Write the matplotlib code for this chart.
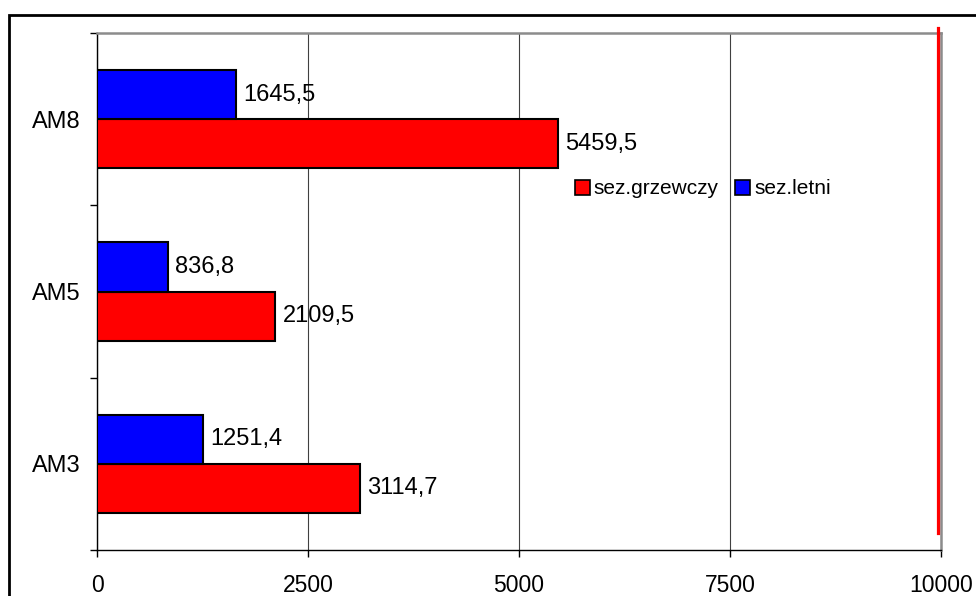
import numpy as np
import matplotlib
matplotlib.use("Agg")
import matplotlib.pyplot as plt
from matplotlib.patches import Rectangle

# stations, bottom to top as drawn
stations = ["AM3", "AM5", "AM8"]
heating = [3114.7, 2109.5, 5459.5]   # sez.grzewczy
summer = [1251.4, 836.8, 1645.5]     # sez.letni
limit_value = 9960
x_ticks = [0, 2500, 5000, 7500, 10000]

plt.rcParams["font.family"] = ["Liberation Sans", "DejaVu Sans"]

fig = plt.figure(figsize=(9.76, 5.96), dpi=100)
ax = fig.add_axes([97 / 976, 1 - 550 / 596, 844 / 976, 517 / 596])

y = np.arange(len(stations))
h = 0.285
red_bars = ax.barh(y - h / 2, heating, height=h, color="#ff0000",
                   edgecolor="black", linewidth=1.5, zorder=3)
blue_bars = ax.barh(y + h / 2, summer, height=h, color="#0000ff",
                    edgecolor="black", linewidth=1.5, zorder=3)

for bars, vals in ((red_bars, heating), (blue_bars, summer)):
    for b, v in zip(bars, vals):
        ax.annotate(f"{v:.1f}".replace(".", ","),
                    (v, b.get_y() + b.get_height() / 2),
                    xytext=(5.5, 0), textcoords="offset points",
                    ha="left", va="center", fontsize=17, zorder=4)

# limit line
ax.plot([limit_value, limit_value], [2.53, -0.4], color="#ff0000",
        lw=2.3, zorder=5, clip_on=False)

ax.set_xlim(0, 10000)
ax.set_ylim(-0.5, 2.5)
ax.set_xticks(x_ticks)
ax.set_xticklabels([str(t) for t in x_ticks])
ax.set_yticks(y)
ax.set_yticklabels(stations)
ax.set_yticks(np.arange(-0.5, 3, 1), minor=True)
ax.tick_params(axis="y", which="major", length=0, pad=12, labelsize=17)
ax.tick_params(axis="y", which="minor", length=5, width=1, direction="out")
ax.tick_params(axis="x", length=5, width=1, direction="out", pad=12,
               labelsize=16.5)

ax.grid(axis="x", color="#404040", lw=0.8, zorder=0)
ax.set_axisbelow(True)

for s in ("left", "bottom"):
    ax.spines[s].set_color("black")
    ax.spines[s].set_linewidth(1.0)
for s in ("top", "right"):
    ax.spines[s].set_color("#8c8c8c")
    ax.spines[s].set_linewidth(1.8)

handles = [Rectangle((0, 0), 1, 1, facecolor="#ff0000", edgecolor="black", lw=1.2),
           Rectangle((0, 0), 1, 1, facecolor="#0000ff", edgecolor="black", lw=1.2)]
fig.legend(handles, ["sez.grzewczy", "sez.letni"], loc="center left",
           bbox_to_anchor=(575 / 976, 1 - 189 / 596), ncol=2, frameon=False,
           fontsize=15, handlelength=0.7, handleheight=0.7,
           handletextpad=0.2, columnspacing=0.8, borderpad=0, borderaxespad=0)

# outer frame of the chart
fig.add_artist(Rectangle((8.5 / 976, -0.2), 1.3, 1.2 - 14.5 / 596,
                         transform=fig.transFigure, fill=False,
                         edgecolor="black", lw=2.0))

fig.savefig("out.png", dpi=100)
